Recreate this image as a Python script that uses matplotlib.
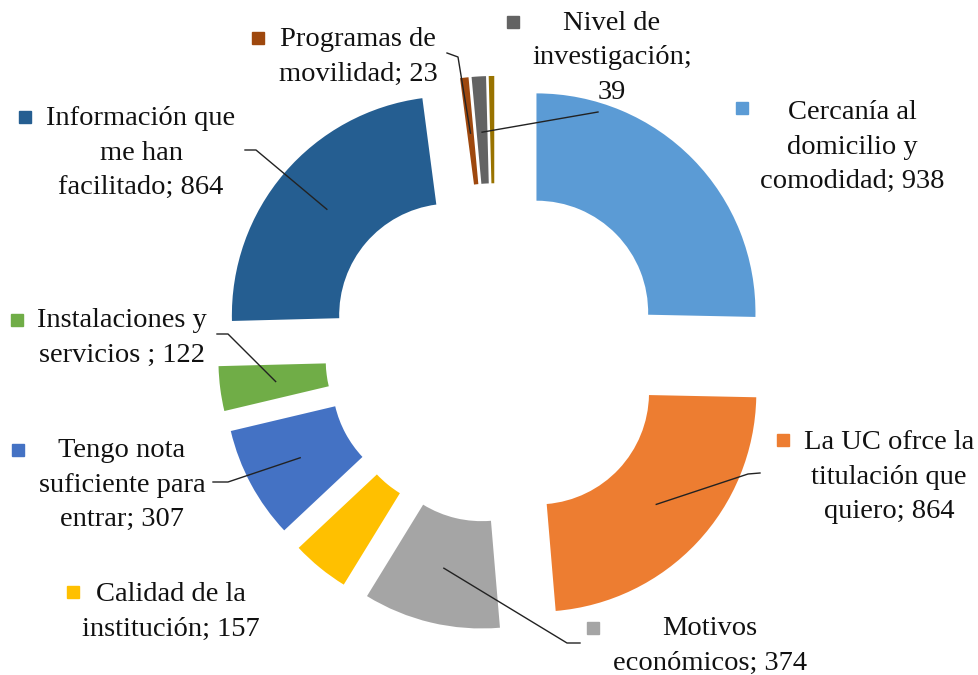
import numpy as np
import matplotlib.pyplot as plt

# data (clockwise from 12 o'clock)
labels = ["Cercanía al\ndomicilio y\ncomodidad; 938",
          "La UC ofrce la\ntitulación que\nquiero; 864",
          "Motivos\neconómicos; 374",
          "Calidad de la\ninstitución; 157",
          "Tengo nota\nsuficiente para\nentrar; 307",
          "Instalaciones y\nservicios ; 122",
          "Información que\nme han\nfacilitado; 864",
          "Programas de\nmovilidad; 23",
          "Nivel de\ninvestigación;\n39",
          ""]
values = [938, 864, 374, 157, 307, 122, 864, 23, 39, 15]
colors = ["#5B9BD5", "#ED7D31", "#A5A5A5", "#FFC000", "#4472C4",
          "#70AD47", "#255E91", "#9E480E", "#636363", "#997300"]

# layout in image pixels
W, H = 979, 675
CX, CY, S = 495, 353, 219.0
EXPLODE = 0.265

# label block centre, legend square centre, leader start points
label_pos = [(852, 147), (889, 477), (710, 646), (171, 612), (122, 485),
             (122, 338), (141, 153), (358, 57), (612, 58), None]
square_pos = [(742, 108), (783, 440), (593, 628), (73, 592), (18, 450),
              (17, 320), (25, 117), (258, 38), (513, 22), None]
leaders = [None, [(760, 473), (748, 474)], [(580, 643), (567, 643)], None,
           [(213, 482), (228, 482)], [(217, 334), (228, 334)],
           [(245, 150), (256, 150)], [(447, 53), (458, 57)], [(598, 112)], None]


def px(x, y):
    return (x - CX) / S, (CY - y) / S


fig = plt.figure(figsize=(W / 100, H / 100), dpi=100)
ax = fig.add_axes([0, 0, 1, 1])

ax.pie(values, colors=colors, startangle=90, counterclock=False,
       explode=[EXPLODE] * len(values), radius=1.0, frame=True,
       wedgeprops=dict(width=0.49, linewidth=0))
ax.set_xlim(-CX / S, (W - CX) / S)
ax.set_ylim(-(H - CY) / S, CY / S)
ax.set_aspect("auto")
ax.axis("off")

total = sum(values)
start = 90.0
for i, v in enumerate(values):
    span = v / total * 360
    mid = np.radians(start - span / 2)
    start -= span
    ex, ey = EXPLODE * np.cos(mid), EXPLODE * np.sin(mid)
    if label_pos[i] is not None:
        tx, ty = px(*label_pos[i])
        ax.text(tx, ty, labels[i], ha="center", va="center", fontsize=20.5,
                family="Liberation Serif", linespacing=1.52, color="#111111")
        sx, sy = px(*square_pos[i])
        ax.plot(sx, sy, marker="s", markersize=8.5, color=colors[i], linestyle="none")
    if leaders[i] is not None:
        end = (ex + 0.745 * np.cos(mid), ey + 0.745 * np.sin(mid))
        pts = [px(*p) for p in leaders[i]] + [end]
        ax.plot([p[0] for p in pts], [p[1] for p in pts], color="#222222", lw=1.0)

fig.savefig("out.png", dpi=100)
